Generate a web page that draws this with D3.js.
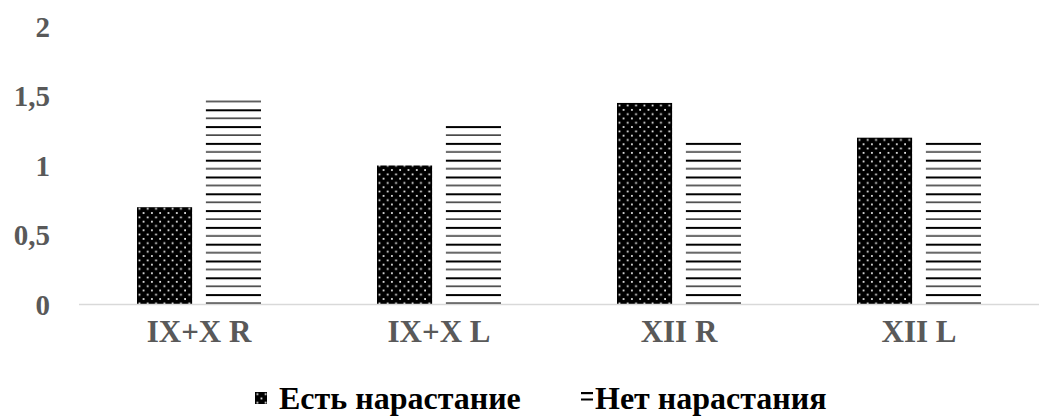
<!DOCTYPE html>
<html>
<head>
<meta charset="utf-8">
<script src="https://cdn.jsdelivr.net/npm/d3@7"></script>
<style>
  html, body { margin: 0; padding: 0; background: #fff; }
  svg { display: block; }
  .lbl { font-family: "Liberation Serif", "Times New Roman", serif; font-weight: bold; }
</style>
</head>
<body>
<svg id="chart" width="1039" height="419"></svg>
<script>
// Chart data
const categories = ["IX+X R", "IX+X L", "XII R", "XII L"];
const seriesNames = ["Есть нарастание", "Нет нарастания"];
const growthYes = [0.7, 1.0, 1.45, 1.2];
const growthNo = [1.49, 1.3, 1.18, 1.18];
const yTicks = [0, 0.5, 1, 1.5, 2];
const yTickLabels = ["0", "0,5", "1", "1,5", "2"];

const svg = d3.select("#chart");
const W = 1039, H = 419;
const margin = { left: 79, right: 0, top: 26.5, bottom: 114.5 };
const plotW = W - margin.left - margin.right;
const plotH = H - margin.top - margin.bottom;

const defs = svg.append("defs");

// Dotted fill: black with a staggered grid of small white dots
const dots = defs.append("pattern")
  .attr("id", "dots").attr("patternUnits", "userSpaceOnUse")
  .attr("width", 8.3).attr("height", 8.6);
dots.append("rect").attr("width", 8.3).attr("height", 8.6).attr("fill", "#000");
dots.append("rect").attr("x", 1.5).attr("y", 1.5).attr("width", 1.7).attr("height", 1.7).attr("fill", "#fff");
dots.append("rect").attr("x", 5.65).attr("y", 5.8).attr("width", 1.7).attr("height", 1.7).attr("fill", "#fff");

// Horizontal-line fill: alternating thick and thin black lines
const lines = defs.append("pattern")
  .attr("id", "hlines").attr("patternUnits", "userSpaceOnUse")
  .attr("width", 10).attr("height", 16.8).attr("y", 8.5);
lines.append("rect").attr("width", 10).attr("height", 16.8).attr("fill", "#fff");
lines.append("rect").attr("x", 0).attr("y", 0).attr("width", 10).attr("height", 2).attr("fill", "#000");
lines.append("rect").attr("x", 0).attr("y", 8.4).attr("width", 10).attr("height", 1.2).attr("fill", "#000");

const fills = ["url(#dots)", "url(#hlines)"];

const x = d3.scaleBand().domain(categories).range([margin.left, margin.left + plotW]).paddingInner(0).paddingOuter(0);
const xInner = d3.scaleBand().domain([0, 1]).range([x.bandwidth() / 2 - 62, x.bandwidth() / 2 + 62]).paddingInner(0.2);
const y = d3.scaleLinear().domain([0, 2]).range([margin.top + plotH, margin.top]);

// Y tick labels
const yAxis = d3.axisLeft(y).tickValues(yTicks).tickSize(0).tickPadding(0)
  .tickFormat((d, i) => yTickLabels[i]);
const gy = svg.append("g").attr("transform", "translate(50,0)").call(yAxis)
  .attr("font-family", null).attr("font-size", null);
gy.select(".domain").remove();
gy.selectAll("text").attr("class", "lbl")
  .style("font-size", "29px").attr("fill", "#595959")
  .attr("dy", "0.34em");

// Bars
const data = categories.map((c, i) => ({ cat: c, vals: [growthYes[i], growthNo[i]] }));
const groups = svg.append("g").selectAll("g").data(data).join("g")
  .attr("transform", d => `translate(${x(d.cat)},0)`);
groups.selectAll("rect").data(d => d.vals.map((v, k) => ({ v, k }))).join("rect")
  .attr("x", d => xInner(d.k))
  .attr("width", xInner.bandwidth())
  .attr("y", d => y(d.v))
  .attr("height", d => y(0) - y(d.v))
  .attr("fill", d => fills[d.k]);

// Baseline
svg.append("line")
  .attr("x1", margin.left).attr("x2", W)
  .attr("y1", y(0)).attr("y2", y(0))
  .attr("stroke", "#d9d9d9").attr("stroke-width", 1.5);

// X category labels
const xAxis = d3.axisBottom(x).tickSize(0).tickPadding(0);
const gx = svg.append("g").attr("transform", `translate(0,${y(0) + 37})`).call(xAxis)
  .attr("font-family", null).attr("font-size", null);
gx.select(".domain").remove();
gx.selectAll("text").attr("class", "lbl")
  .style("font-size", "31px").attr("fill", "#595959")
  .attr("y", 0).attr("dy", "0em");

// Legend
const legend = svg.append("g");
const legendItems = [
  { name: seriesNames[0], fill: fills[0], x: 255 },
  { name: seriesNames[1], fill: fills[1], x: 581 }
];
legendItems.forEach((it, i) => {
  const g = legend.append("g").attr("transform", `translate(${it.x},${409})`);
  if (i === 0) {
    g.append("rect").attr("x", 0).attr("y", -17).attr("width", 12).attr("height", 12).attr("fill", it.fill);
  } else {
    g.append("rect").attr("x", 0).attr("y", -17).attr("width", 12).attr("height", 2.2).attr("fill", "#000");
    g.append("rect").attr("x", 0).attr("y", -10.5).attr("width", 12).attr("height", 2).attr("fill", "#000");
  }
  g.append("text").attr("class", "lbl").attr("x", i === 0 ? 24 : 14).attr("y", 0)
    .style("font-size", "32px").attr("fill", "#000")
    .text(it.name);
});
</script>
</body>
</html>
